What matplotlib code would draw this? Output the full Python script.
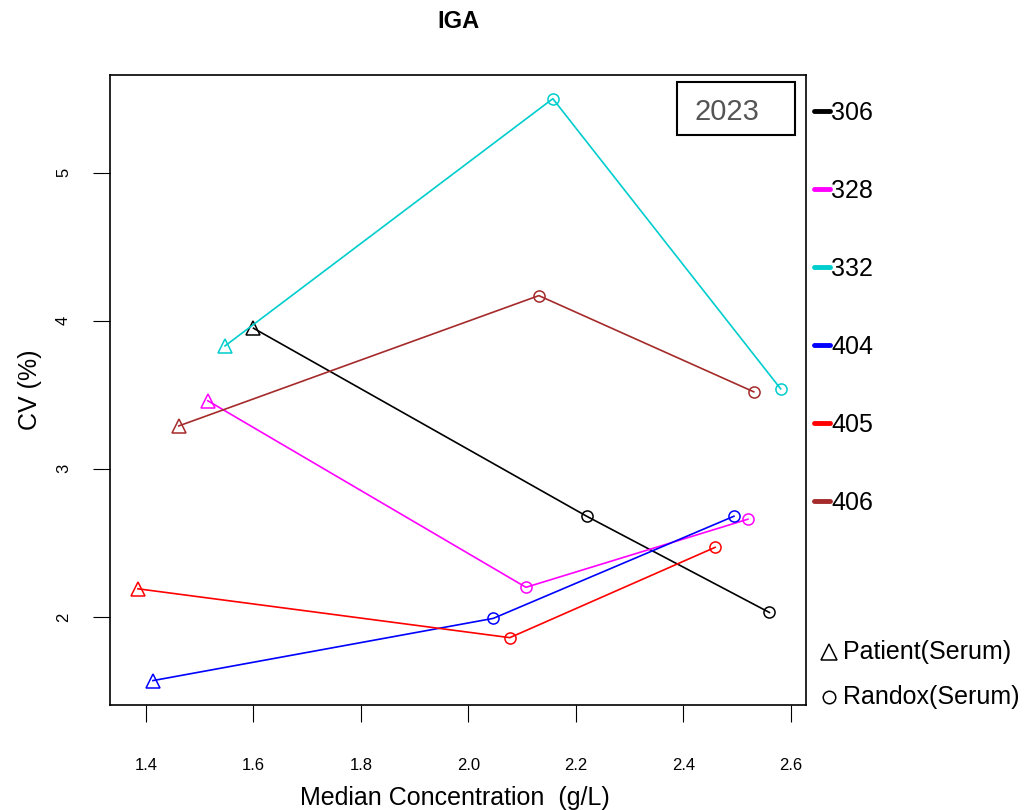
import matplotlib
matplotlib.use("Agg")
import matplotlib.pyplot as plt
from matplotlib.lines import Line2D
from matplotlib.patches import Rectangle

plt.rcParams['font.family'] = ['Liberation Sans', 'DejaVu Sans']

# datos: concentracion mediana (g/L) y CV (%) por laboratorio
labs = ['306', '328', '332', '404', '405', '406']
colors = ['black', 'magenta', '#00CDCD', 'blue', 'red', '#A52A2A']
x_306 = [1.60, 2.22, 2.56]
cv_306 = [3.95, 2.68, 2.03]
x_328 = [1.515, 2.107, 2.52]
cv_328 = [3.46, 2.20, 2.66]
x_332 = [1.547, 2.157, 2.581]
cv_332 = [3.83, 5.50, 3.54]
x_404 = [1.413, 2.046, 2.494]
cv_404 = [1.57, 1.99, 2.68]
x_405 = [1.385, 2.077, 2.459]
cv_405 = [2.19, 1.86, 2.47]
x_406 = [1.461, 2.131, 2.531]
cv_406 = [3.29, 4.17, 3.52]
# primer punto = Patient(Serum), resto = Randox(Serum)
sample_types = ['Patient(Serum)', 'Randox(Serum)']
year = '2023'

xs = [x_306, x_328, x_332, x_404, x_405, x_406]
cvs = [cv_306, cv_328, cv_332, cv_404, cv_405, cv_406]

fig = plt.figure(figsize=(10.25, 8.1), dpi=100)
ax = fig.add_axes([0.1073, 0.1296, 0.679, 0.7778])

for x, cv, c in zip(xs, cvs, colors):
    ax.plot(x, cv, color=c, lw=1.2)
    ax.plot(x[:1], cv[:1], linestyle='none', marker='^', markersize=10,
            markerfacecolor='none', markeredgecolor=c, markeredgewidth=1.1)
    ax.plot(x[1:], cv[1:], linestyle='none', marker='o', markersize=8,
            markerfacecolor='none', markeredgecolor=c, markeredgewidth=1.1)

ax.set_xlim(1.333, 2.628)
ax.set_ylim(1.405, 5.66)
ax.set_xticks([1.4, 1.6, 1.8, 2.0, 2.2, 2.4, 2.6])
ax.set_xticklabels(['1.4', '1.6', '1.8', '2.0', '2.2', '2.4', '2.6'])
ax.set_yticks([2, 3, 4, 5])
ax.tick_params(axis='x', length=12, pad=26, labelsize=12)
ax.tick_params(axis='y', length=12, pad=16, labelsize=12)
for lbl in ax.get_yticklabels():
    lbl.set_rotation(90)
    lbl.set_va('center')
for sp in ax.spines.values():
    sp.set_linewidth(1.2)

ax.set_xlabel('Median Concentration  (g/L)', fontsize=18)
ax.set_ylabel('CV (%)', fontsize=18)
ax.xaxis.set_label_coords(0.4957, -0.128)
ax.yaxis.set_label_coords(-0.098, 0.5)
fig.text(458 / 1025, 1 - 22 / 810, 'IGA', fontsize=17, fontweight='bold', ha='center', va='center')

# caja del año
ax.add_patch(Rectangle((0.8147, 0.9048), 0.1693, 0.0842, transform=ax.transAxes,
                       facecolor='white', edgecolor='black', linewidth=1.5, zorder=5))
ax.text(0.8865, 0.942, year, transform=ax.transAxes, fontsize=21, color='#555555',
        ha='center', va='center', zorder=6)

# leyenda de laboratorios fuera del eje
for i, (lab, c) in enumerate(zip(labs, colors)):
    yy = 1 - (111 + 78 * i) / 810
    fig.add_artist(Line2D([814 / 1025, 830 / 1025], [yy, yy], color=c, lw=3.5,
                          solid_capstyle='round'))
    fig.text(831 / 1025, yy - 0.002, lab, fontsize=18, va='center', ha='left')

# leyenda de tipos de muestra
for j, (st, m, ms) in enumerate(zip(sample_types, ['^', 'o'], [11, 9])):
    yy = 1 - (652 + 45 * j) / 810
    fig.add_artist(Line2D([829 / 1025], [yy], linestyle='none', marker=m, markersize=ms,
                          markerfacecolor='none', markeredgecolor='black', markeredgewidth=1.1))
    fig.text(843 / 1025, yy, st, fontsize=18, va='center', ha='left')

fig.savefig('out.png', dpi=100)
